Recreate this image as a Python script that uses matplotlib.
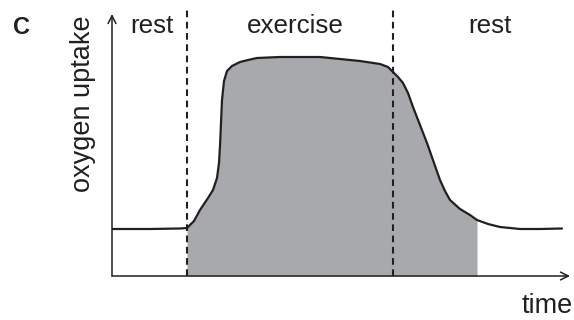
import numpy as np
import matplotlib.pyplot as plt

# curve (time, oxygen uptake), arbitrary units
time = [0, 3.8, 6.8, 7.5, 8.2, 8.8, 9.6, 10.1, 10.5, 10.7, 10.8, 10.9, 11.0, 11.2, 11.5, 12.0, 12.8,
        13.6, 14.5, 16.8, 20.8, 24.8, 26.8, 27.6, 28.1, 28.6, 29.1, 29.6, 30.1, 31.5, 32.8, 33.3,
        33.8, 34.8, 35.8, 36.5, 37.6, 38.8, 40.8, 42.8, 45.0]
uptake = [4.7, 4.7, 4.75, 4.8, 5.5, 6.6, 7.8, 8.6, 9.8, 11.3, 13.0, 15.3, 17.6, 19.5, 20.5, 21.0, 21.4,
          21.6, 21.8, 21.9, 21.9, 21.5, 21.2, 20.9, 20.4, 19.9, 19.3, 18.3, 16.9, 13.3, 9.6, 8.5,
          7.6, 6.7, 6.1, 5.6, 5.2, 4.9, 4.7, 4.7, 4.75]
exercise_start = 7.5
exercise_end = 28.1
shade_end = 36.5
phase_labels = ["rest", "exercise", "rest"]
phase_pos = [4.0, 18.3, 37.8]

plt.rcParams['font.family'] = ['Liberation Sans', 'DejaVu Sans']
ink = '#231f20'

fig = plt.figure(figsize=(5.74, 3.2), dpi=100)
ax = fig.add_axes([112 / 574, 44 / 320, 458 / 574, 276 / 320])
ax.set_xlim(0, 45.8)
ax.set_ylim(0, 27.6)
ax.axis('off')

t = np.array(time)
u = np.array(uptake)
ax.fill_between(t, 0, u, where=(t >= exercise_start) & (t <= shade_end),
                color='#a7a9ac', linewidth=0)
ax.plot(t, u, color=ink, lw=1.6, solid_capstyle='round')

for x in [exercise_start, exercise_end]:
    ax.plot([x, x], [0, 27.0], color=ink, lw=1.5, linestyle=(0, (3.2, 2.2)))

# axes with arrow heads
ax.annotate('', xy=(0, 26.2), xytext=(0, 0),
            arrowprops=dict(arrowstyle='->', color=ink, lw=1.1,
                            shrinkA=0, shrinkB=0, mutation_scale=14))
ax.annotate('', xy=(45.8, 0), xytext=(0, 0),
            arrowprops=dict(arrowstyle='->', color=ink, lw=1.1,
                            shrinkA=0, shrinkB=0, mutation_scale=14))

for lab, x in zip(phase_labels, phase_pos):
    ax.text(x, 24.3, lab, fontsize=18.7, ha='center', va='baseline', color=ink)

fig.text(83 / 574, 1 - 103.5 / 320, 'oxygen uptake', rotation=90, fontsize=19.5,
         ha='center', va='center', color=ink)
fig.text(547 / 574, 1 - 313 / 320, 'time', fontsize=19.5, ha='center', va='baseline',
         color=ink)
fig.text(22 / 574, 1 - 27 / 320, 'C', fontsize=17, fontweight='bold', ha='center',
         va='center', color=ink)

fig.savefig('out.png', dpi=100)
